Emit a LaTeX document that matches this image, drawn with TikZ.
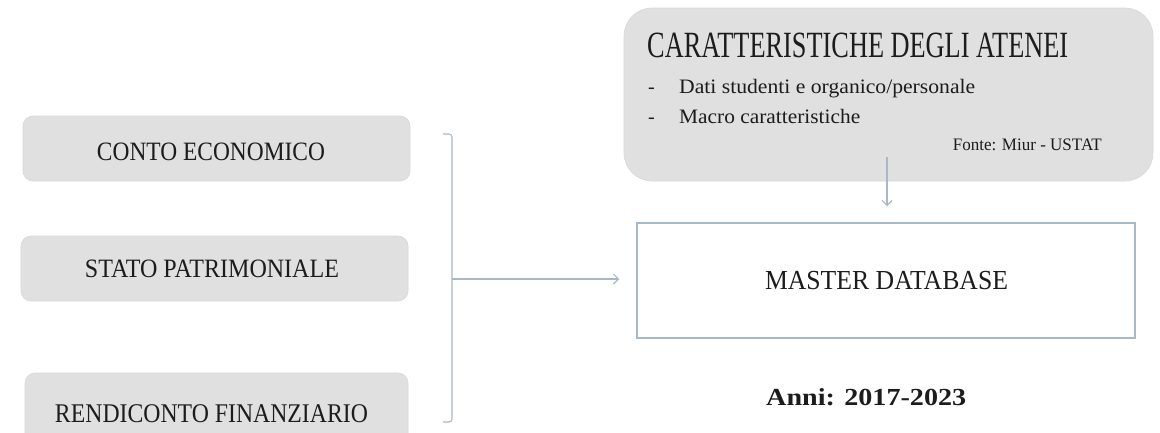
\documentclass[tikz,border=0pt]{standalone}
\usepackage{fontspec}
\usepackage{graphicx}
\setmainfont{Liberation Serif}
\usetikzlibrary{arrows.meta}
\definecolor{boxgray}{HTML}{E0E0E0}
\definecolor{boxedge}{HTML}{D8D8D8}
\definecolor{linecol}{HTML}{A9B7CA}
\definecolor{txtcol}{HTML}{1C1C1C}
\newcommand\fitw[3]{\resizebox{#1pt}{\height}{\fontsize{#2}{#2}\selectfont #3}}
\tikzset{
  graybox/.style={draw=boxedge, line width=0.6pt, fill=boxgray, rounded corners=10pt, inner sep=0pt},
  bigbox/.style={draw=boxedge, line width=0.6pt, fill=boxgray, rounded corners=28pt, inner sep=0pt},
  masterbox/.style={draw=linecol, line width=1.5pt, fill=white, inner sep=0pt},
  lbl/.style={inner sep=0pt, text=txtcol},
  conn/.style={draw=linecol, line width=1.1pt},
  arr/.style={conn, -{Straight Barb[length=5pt,width=10pt]}}
}
\begin{document}
\begin{tikzpicture}[x=1pt,y=-1pt]
\useasboundingbox (0,0) rectangle (1160,432);
% left boxes
\node[graybox, minimum width=387pt, minimum height=65pt] (ce) at (216.5,148.5) {};
\node[lbl] (cet) at (211,151.5) {\fitw{228}{26.5}{CONTO ECONOMICO}};
\node[graybox, minimum width=387pt, minimum height=65pt] (sp) at (214.5,268.5) {};
\node[lbl] (spt) at (212,268.5) {\fitw{254}{26.5}{STATO PATRIMONIALE}};
\node[graybox, minimum width=383pt, minimum height=82pt] (rf) at (216.5,414) {};
\node[lbl] (rft) at (211.5,414) {\fitw{313}{27}{RENDICONTO FINANZIARIO}};
% bracket
\coordinate (btop) at (443,134);
\coordinate (bbot) at (443,422);
\coordinate (bmid) at (452,279);
\draw[conn, rounded corners=3pt] (btop) -- (452,134) -- (452,422) -- (bbot);
% top box
\node[bigbox, minimum width=529pt, minimum height=173pt] (car) at (888.5,94.5) {};
\node[lbl, anchor=base west] (cart) at (647,57) {\fitw{421}{37}{CARATTERISTICHE DEGLI ATENEI}};
\node[lbl, anchor=base west] (d1) at (648,93) {\fontsize{20}{20}\selectfont -};
\node[lbl, anchor=base west] (dati) at (679,93) {\fitw{296}{20.5}{Dati studenti e organico/personale}};
\node[lbl, anchor=base west] (d2) at (648,123) {\fontsize{20}{20}\selectfont -};
\node[lbl, anchor=base west] (macro) at (679,123) {\fitw{181}{20.5}{Macro caratteristiche}};
\node[lbl, anchor=base east] (fonte) at (1102,150) {\fitw{149}{17.5}{Fonte: Miur - USTAT}};
% master
\node[masterbox, minimum width=498pt, minimum height=115pt] (master) at (886,280.5) {};
\node[lbl] (mt) at (886.5,281) {\fitw{243}{27.5}{MASTER DATABASE}};
\node[lbl, anchor=base west] (anni) at (766,405) {\fitw{200}{24.5}{\bfseries Anni: 2017-2023}};
% arrows
\coordinate (dstart) at (887,157);
\draw[arr, shorten >=16pt] (dstart) -- (dstart |- master.north);
\draw[arr, shorten >=17pt] (bmid) -- (bmid -| master.west);
\end{tikzpicture}
\end{document}
